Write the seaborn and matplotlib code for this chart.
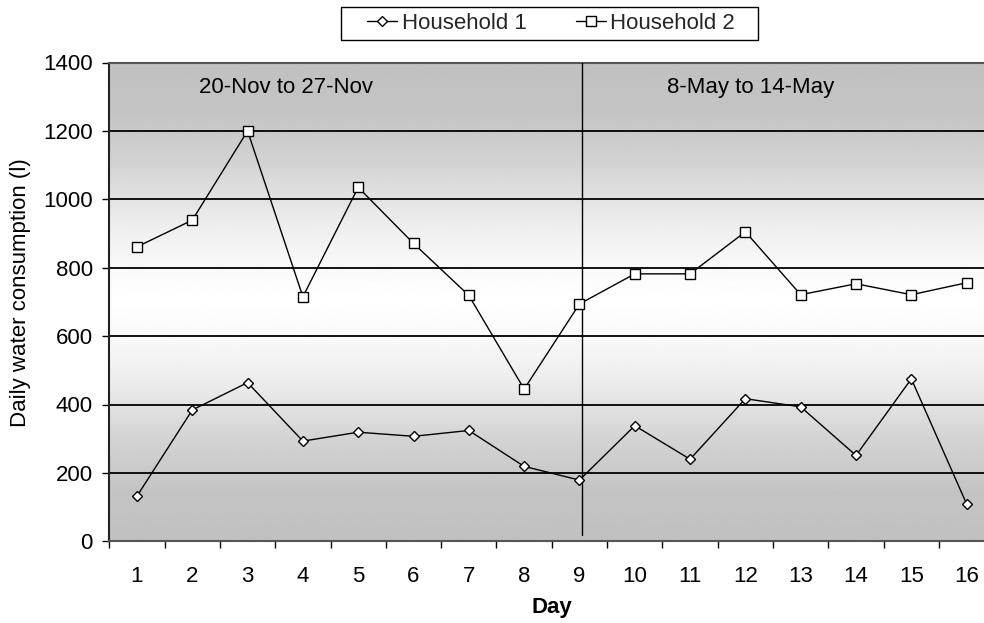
import numpy as np
import pandas as pd
import matplotlib
matplotlib.use("Agg")
import matplotlib.pyplot as plt
from matplotlib.patches import Rectangle
import seaborn as sns

# Daily water consumption (litres) for two households over 16 recorded days
days = list(range(1, 17))
household_1 = [132, 384, 464, 293, 319, 307, 324, 219, 179, 338, 240, 417, 393, 251, 475, 109]
household_2 = [861, 939, 1200, 715, 1035, 871, 719, 445, 694, 782, 782, 905, 721, 753, 721, 756]
series_names = ["Household 1", "Household 2"]
period_labels = ["20-Nov to 27-Nov", "8-May to 14-May"]
y_ticks = [0, 200, 400, 600, 800, 1000, 1200, 1400]

sns.set_theme(style="white")
plt.rcParams["font.family"] = ["Liberation Sans", "DejaVu Sans"]
FS = 16

fig = plt.figure(figsize=(9.84, 6.23), dpi=100)
W, H = 984, 623
left_px, right_px, top_px, bottom_px = 109.3, 994.3, 62.5, 541.3
ax = fig.add_axes([left_px / W, (H - bottom_px) / H,
                   (right_px - left_px) / W, (bottom_px - top_px) / H])

x_lo, x_hi = 0.5, 16.5
y_lo, y_hi = 0, 1400

# grey-white-grey vertical background gradient
yy = np.linspace(y_lo, y_hi, 400)
shade = np.interp(yy, [0, 150, 300, 450, 600, 700, 800, 950, 1100, 1250, 1400],
                  [0.753, 0.77, 0.83, 0.92, 0.98, 1.0, 0.98, 0.92, 0.83, 0.77, 0.753])
ax.imshow(shade[:, None], cmap="gray", vmin=0, vmax=1, origin="lower",
          extent=[x_lo, x_hi, y_lo, y_hi], aspect="auto", zorder=0,
          interpolation="bilinear")

df = pd.DataFrame({"Day": days, series_names[0]: household_1, series_names[1]: household_2})

common = dict(color="black", lw=1.0, markerfacecolor="white",
              markeredgecolor="black", markeredgewidth=1.0, zorder=4)
sns.lineplot(data=df, x="Day", y=series_names[0], marker="D", markersize=5.0,
             label=series_names[0], ax=ax, **common)
sns.lineplot(data=df, x="Day", y=series_names[1], marker="s", markersize=6.6,
             label=series_names[1], ax=ax, **common)

ax.set_xlim(x_lo, x_hi)
ax.set_ylim(y_lo, y_hi)

# period separator and period captions
ax.plot([9.05, 9.05], [18, 1400], color="black", lw=1.0, zorder=3)
ax.text(3.7, 1328, period_labels[0], ha="center", va="center", fontsize=FS, color="black", zorder=5)
ax.text(12.1, 1328, period_labels[1], ha="center", va="center", fontsize=FS, color="black", zorder=5)

# gridlines
ax.set_yticks(y_ticks)
ax.set_yticklabels([str(v) for v in y_ticks], fontsize=FS)
ax.yaxis.grid(True, color="black", lw=1.3, zorder=1)
ax.set_axisbelow(True)
for gl in ax.get_ygridlines():
    gl.set_zorder(1)

ax.set_xticks(days)
ax.set_xticklabels([str(d) for d in days], fontsize=FS)
ax.set_xticks(np.arange(0.5, 17, 1.0), minor=True)
ax.tick_params(axis="x", which="major", length=0, pad=18, colors="black")
ax.tick_params(axis="x", which="minor", length=5, width=1.0, direction="out",
               color="black", bottom=True)
ax.tick_params(axis="y", which="major", length=5, width=1.0, direction="out",
               pad=7, colors="black", left=True)

for side in ["left", "bottom", "top"]:
    ax.spines[side].set_visible(True)
    ax.spines[side].set_linewidth(1.5)
ax.spines["left"].set_color("#222222")
ax.spines["bottom"].set_color("#555555")
ax.spines["top"].set_color("#555555")
ax.spines["right"].set_visible(False)

ax.set_xlabel("")
ax.set_ylabel("Daily water consumption (l)", fontsize=FS, color="black")
ax.yaxis.set_label_coords(-0.089, 0.52)
fig.text(552 / W, 1 - 608 / H, "Day", ha="center", va="center",
         fontsize=FS, fontweight="bold", color="black")

handles, labels = ax.get_legend_handles_labels()
if ax.get_legend() is not None:
    ax.get_legend().remove()
leg = fig.legend(handles, labels, loc="center", bbox_to_anchor=(551 / W, 1 - 23.5 / H),
                 ncol=2, fontsize=FS, frameon=False, handlelength=1.35,
                 handletextpad=0.2, columnspacing=2.2)
# legend frame box
fig.patches.append(Rectangle((341 / W, 1 - 40 / H), (758 - 341) / W, 33 / H,
                             transform=fig.transFigure, facecolor="white",
                             edgecolor="black", lw=1.0, zorder=0))

fig.savefig("out.png", dpi=100)
